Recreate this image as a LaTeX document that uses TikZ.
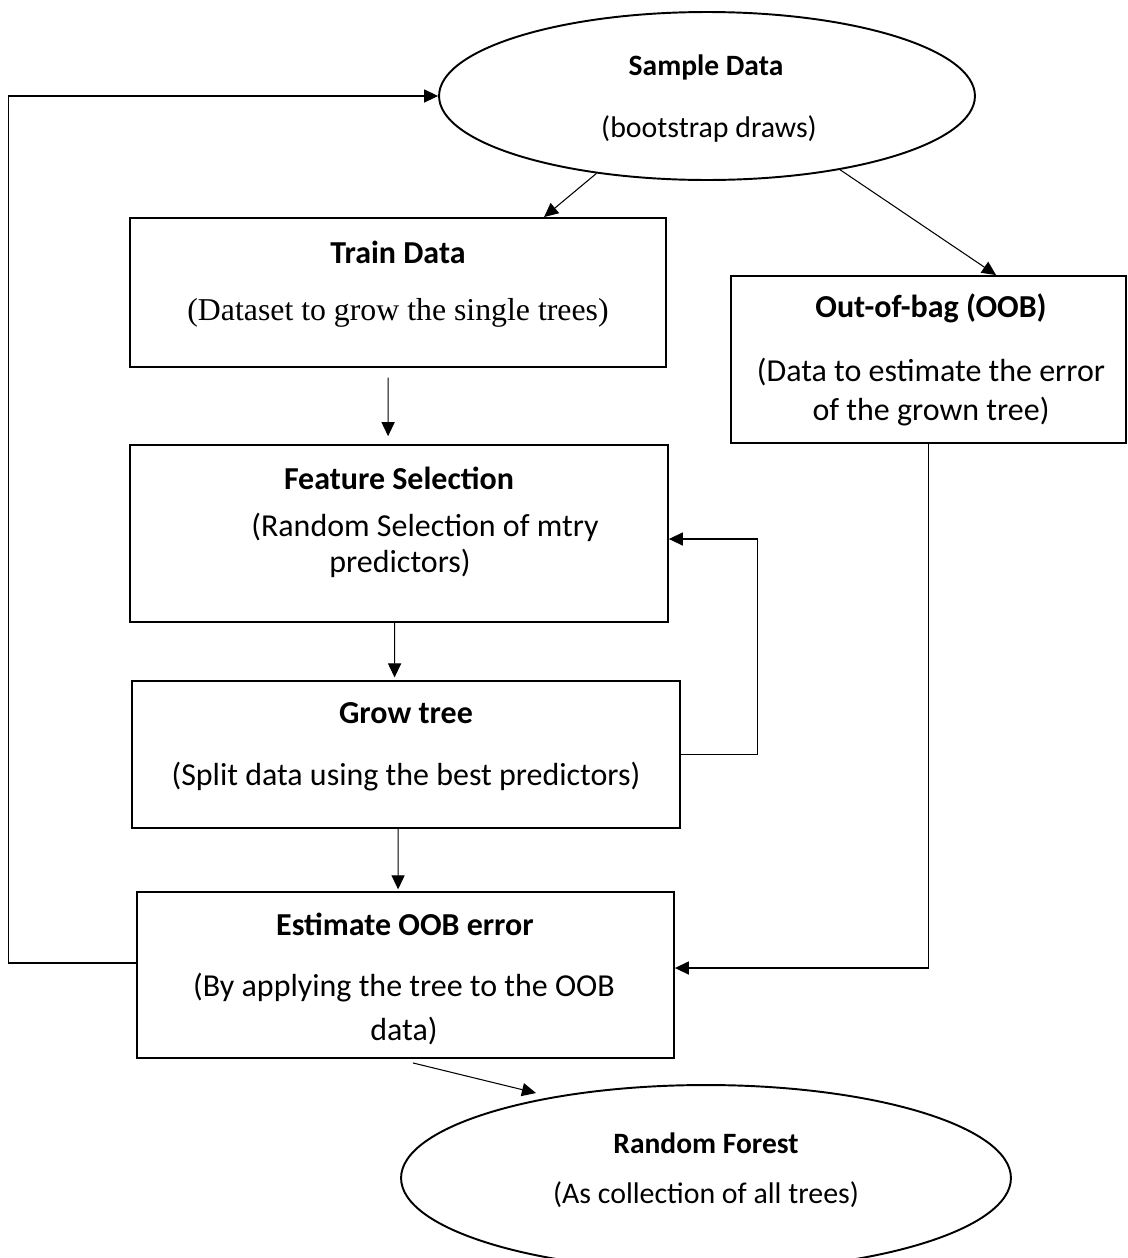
\documentclass[tikz,border=0pt]{standalone}
\usepackage{fontspec}
\setmainfont{Carlito}
\newfontfamily\timesfont{Liberation Serif}
\usetikzlibrary{arrows.meta,shapes.geometric,calc}
\begin{document}
\begin{tikzpicture}[x=0.02cm,y=-0.02cm,
  box/.style={draw,line width=1.1pt,rectangle,inner sep=0pt},
  oval/.style={draw,line width=1.1pt,ellipse,inner sep=0pt},
  txt/.style={font=\fontsize{18.2}{22}\selectfont,inner sep=0pt},
  ttl/.style={font=\fontsize{18.2}{22}\selectfont\bfseries,inner sep=0pt},
  otxt/.style={font=\fontsize{17}{21}\selectfont,inner sep=0pt},
  ottl/.style={font=\fontsize{16.8}{21}\selectfont\bfseries,inner sep=0pt},
  link/.style={line width=0.6pt,-{Triangle[length=8pt,width=7.5pt]}}]
\useasboundingbox (0,0) rectangle (1127,1258);

% shapes
\node[oval,minimum width=10.72cm,minimum height=3.36cm] (sample) at (707,96) {};
\node[box,minimum width=10.72cm,minimum height=2.98cm] (train) at (398,292.5) {};
\node[box,minimum width=7.9cm,minimum height=3.34cm] (oob) at (928.5,359.5) {};
\node[box,minimum width=10.76cm,minimum height=3.54cm] (feature) at (399,533.5) {};
\node[box,minimum width=10.96cm,minimum height=2.94cm] (grow) at (406,754.5) {};
\node[box,minimum width=10.74cm,minimum height=3.32cm] (est) at (405.5,975) {};
\node[oval,minimum width=12.2cm,minimum height=3.72cm] (rf) at (706,1178) {};

% texts
\node[ottl] (sampleA) at (706,67) {Sample Data};
\node[otxt] (sampleB) at (709,129) {(bootstrap draws)};
\node[ttl] (trainA) at (398,252) {Train Data};
\node[txt,font=\fontsize{18.1}{22}\selectfont\timesfont] (trainB) at (398,313) {(Dataset to grow the single trees)};
\node[ttl] (oobA) at (931,308) {Out-of-bag (OOB)};
\node[txt] (oobB) at (931,372) {(Data to estimate the error};
\node[txt] (oobC) at (931,412) {of the grown tree)};
\node[ttl] (featureA) at (399,478) {Feature Selection};
\node[txt] (featureB) at (425,527) {(Random Selection of mtry};
\node[txt] (featureC) at (400,563) {predictors)};
\node[ttl] (growA) at (406,713) {Grow tree};
\node[txt] (growB) at (406,777) {(Split data using the best predictors)};
\node[ttl] (estA) at (405,924) {Estimate OOB error};
\node[txt] (estB) at (404,988) {(By applying the tree to the OOB};
\node[txt] (estC) at (404,1031) {data)};
\node[ottl] (rfA) at (706,1143) {Random Forest};
\node[otxt] (rfB) at (706,1195) {(As collection of all trees)};

% connectors
\draw[link] (sample.215) -- ($(train.north west)+(415,0)$);
\draw[link] (sample.331) -- ($(oob.north west)+(266,0)$);
\draw[link,shorten <=5.5pt,shorten >=4.5pt] ($(train.south west)+(259,0)$) -- ($(feature.north west)+(259,0)$);
\draw[link,shorten >=1.5pt] ($(feature.south west)+(265.5,0)$) -- ($(grow.north west)+(263.5,0)$);
\draw[link] (grow.east) -- ++(77,0) |- ($(feature.east)+(0,5.5)$);
\draw[link,shorten >=1pt] ($(grow.south west)+(267,0)$) -- ($(est.north west)+(262,0)$);
\draw[link] (oob.south) |- ($(est.east)+(0,-7)$);
\draw[link] ($(est.west)+(0,-12)$) -- ++(-128,0) |- (sample.west);
\draw[link] ($(est.south)+(7.5,4)$) -- ($(rf.center)+(-170,-85)$);
\end{tikzpicture}
\end{document}
